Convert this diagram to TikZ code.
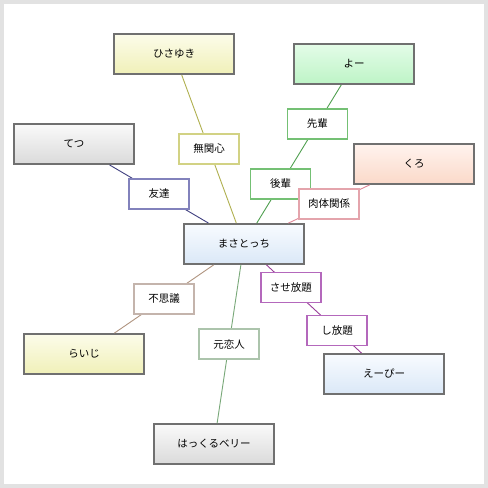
\documentclass[tikz,border=0pt]{standalone}
\usepackage{fontspec}
\setmainfont{Noto Sans CJK JP}
\usetikzlibrary{calc}
\definecolor{framegray}{HTML}{E2E2E2}
\definecolor{boxborder}{HTML}{707070}
\definecolor{ylwTop}{HTML}{FCFCEA}\definecolor{ylwBot}{HTML}{F0F0B8}
\definecolor{grnTop}{HTML}{E4FCE8}\definecolor{grnBot}{HTML}{BDF4C6}
\definecolor{gryTop}{HTML}{FAFAFA}\definecolor{gryBot}{HTML}{DADADA}
\definecolor{salTop}{HTML}{FFF3EE}\definecolor{salBot}{HTML}{FBD9C9}
\definecolor{bluTop}{HTML}{F8FBFF}\definecolor{bluBot}{HTML}{DAE8F7}
\definecolor{olvLine}{HTML}{B0B050}\definecolor{olvBox}{HTML}{D2D284}
\definecolor{grnLine}{HTML}{50A050}\definecolor{grnBox}{HTML}{74C074}
\definecolor{indLine}{HTML}{404080}\definecolor{indBox}{HTML}{8282BC}
\definecolor{pnkLine}{HTML}{E08898}\definecolor{pnkBox}{HTML}{E4A4AC}
\definecolor{brnLine}{HTML}{B09480}\definecolor{brnBox}{HTML}{C4B4AC}
\definecolor{vioLine}{HTML}{984098}\definecolor{vioBox}{HTML}{B468BC}
\definecolor{sgeLine}{HTML}{78A878}\definecolor{sgeBox}{HTML}{ACC4AC}
\tikzset{
  person/.style={rectangle, draw=boxborder, line width=1.8pt, minimum width=120pt,
    minimum height=40pt, inner sep=0pt, font=\fontsize{10.5}{12}\selectfont},
  ylw/.style={person, top color=ylwTop, bottom color=ylwBot},
  grn/.style={person, top color=grnTop, bottom color=grnBot},
  gry/.style={person, top color=gryTop, bottom color=gryBot},
  sal/.style={person, top color=salTop, bottom color=salBot},
  blu/.style={person, top color=bluTop, bottom color=bluBot},
  rel/.style={rectangle, fill=white, line width=1.4pt, minimum width=60pt,
    minimum height=30pt, inner sep=0pt, font=\fontsize{10.5}{12}\selectfont},
  link/.style={line width=0.9pt}
}
\begin{document}
\begin{tikzpicture}[x=1pt,y=-1pt]
\fill[framegray] (0,0) rectangle (488,488);
\fill[white] (4,4) rectangle (484,484);
\useasboundingbox (0,0) rectangle (488,488);
% people
\node[ylw] (hisa) at (174,54) {ひさゆき};
\node[grn] (yo) at (354,64) {よー};
\node[gry] (tetsu) at (74,144) {てつ};
\node[sal] (kuro) at (414,164) {くろ};
\node[blu] (masa) at (244,244) {まさとっち};
\node[ylw] (raiji) at (84,354) {らいじ};
\node[blu] (ep) at (384,374) {えーぴー};
\node[gry] (hack) at (214,444) {はっくるベリー};
% links
\draw[link, olvLine] (hisa) -- (masa);
\draw[link, grnLine] (yo) -- (masa);
\draw[link, indLine] (tetsu) -- (masa);
\draw[link, pnkLine] (kuro) -- (masa);
\draw[link, brnLine] (raiji) -- (masa);
\draw[link, vioLine] (ep) -- (masa);
\draw[link, sgeLine] (hack) -- (masa);
% relation labels
\node[rel, draw=olvBox] (mukan) at ($(hisa)!0.5!(masa)$) {無関心};
\node[rel, draw=grnBox] (senpai) at ($(yo)!1/3!(masa)$) {先輩};
\node[rel, draw=grnBox] (kohai) at ($(yo)!2/3!(masa)$) {後輩};
\node[rel, draw=indBox] (tomo) at ($(tetsu)!0.5!(masa)$) {友達};
\node[rel, draw=pnkBox] (niku) at ($(kuro)!0.5!(masa)$) {肉体関係};
\node[rel, draw=brnBox] (fushi) at ($(raiji)!0.5!(masa)$) {不思議};
\node[rel, draw=vioBox] (sase) at ($(masa)!0.335!(ep)$) {させ放題};
\node[rel, draw=vioBox] (shi) at ($(masa)!0.665!(ep)$) {し放題};
\node[rel, draw=sgeBox] (moto) at ($(hack)!0.5!(masa)$) {元恋人};
\end{tikzpicture}
\end{document}
